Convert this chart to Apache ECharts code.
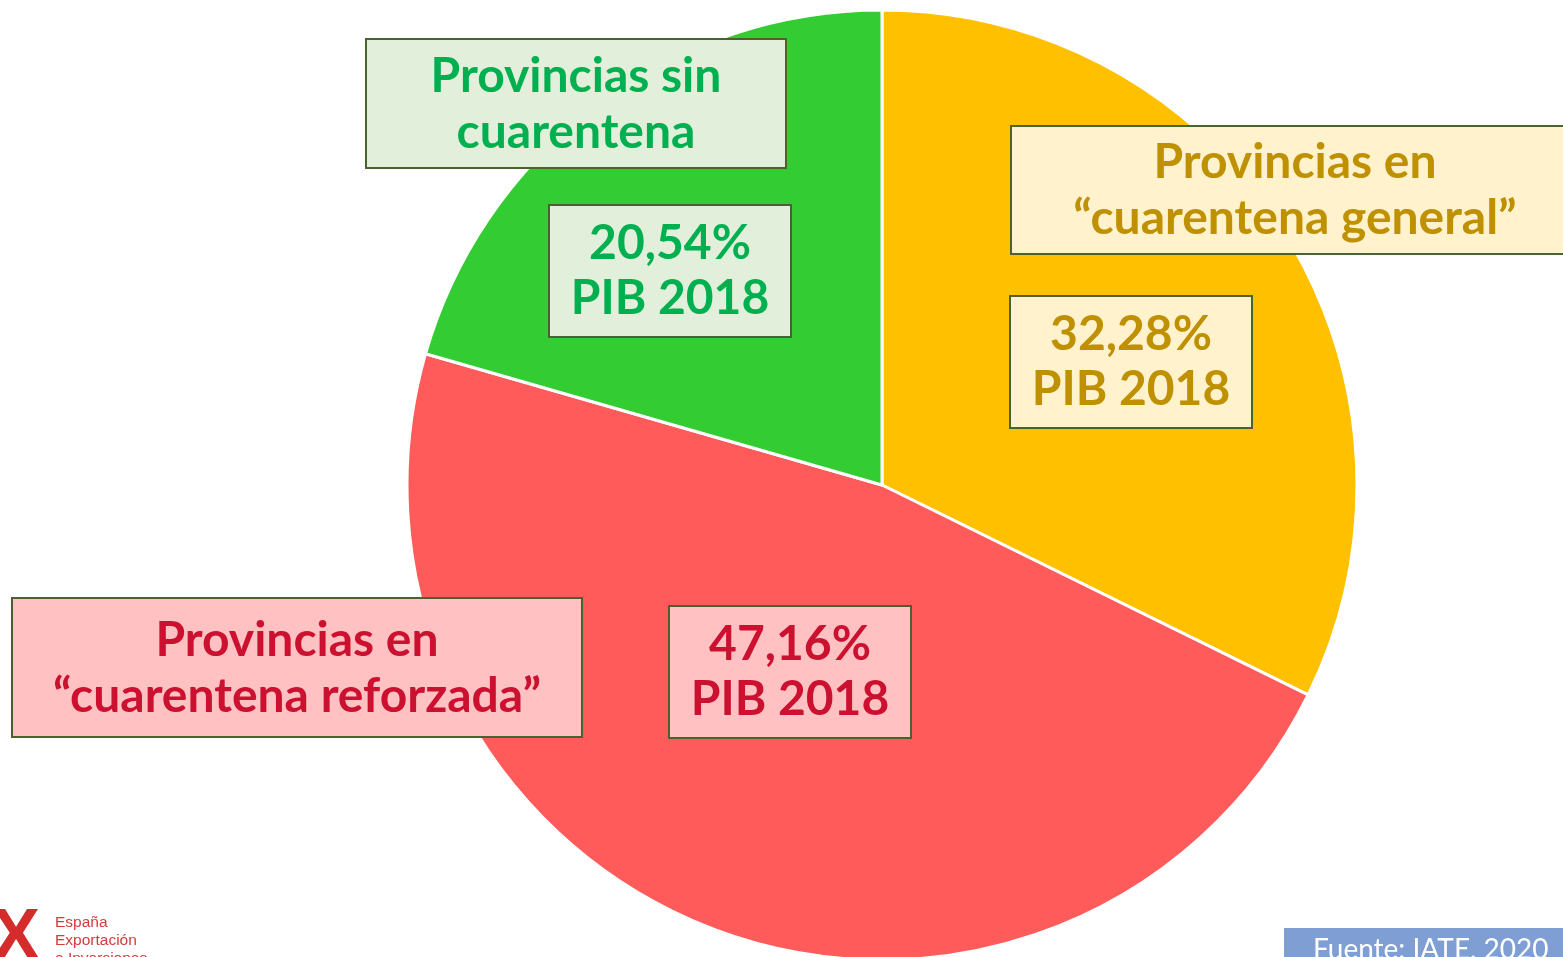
<!DOCTYPE html>
<html>
<head>
<meta charset="utf-8">
<script src="https://cdn.jsdelivr.net/npm/echarts@6/dist/echarts.min.js"></script>
<style>
  html, body { margin: 0; padding: 0; background: #fff; }
  #main { width: 1563px; height: 957px; }
</style>
</head>
<body>
<div id="main"></div>
<script>
// data
const names = ['Provincias en\n\u201ccuarentena general\u201d', 'Provincias en\n\u201ccuarentena reforzada\u201d', 'Provincias sin\ncuarentena']
const shares = [32.28, 47.16, 20.54]
const sliceColors = ['#FFC000', '#FF5B5B', '#33CC33']
const boxFill = ['#FFF2CC', '#FFC1C1', '#E2EFDA']
const textColors = ['#BF9000', '#CC1030', '#00B050']

// box layout (name box, percent box) per slice
const nameBoxes = [
  { x: 1011, y: 126, w: 560, h: 128, cx: 1295 },
  { x: 12, y: 598, w: 570, h: 139, cx: 297 },
  { x: 366, y: 39, w: 420, h: 129, cx: 576 }
]
const pctBoxes = [
  { cx: 1131, cy: 362 },
  { cx: 790, cy: 672 },
  { cx: 670, cy: 271 }
]

const font = 'Lato'
const chart = echarts.init(document.getElementById('main'))

const graphics = []
nameBoxes.forEach((b, i) => {
  graphics.push({
    type: 'rect', z: 10,
    shape: { x: b.x, y: b.y, width: b.w, height: b.h },
    style: { fill: boxFill[i], stroke: '#4A6130', lineWidth: 2 }
  })
  graphics.push({
    type: 'text', z: 11,
    style: {
      x: b.cx, y: b.y + b.h / 2 + 1, text: names[i],
      fill: textColors[i], font: 'bold 48px ' + font,
      lineHeight: 56, align: 'center', verticalAlign: 'middle'
    }
  })
})

// logo
graphics.push({
  type: 'text', z: 11,
  style: { x: -8, y: 903, text: 'X', fill: '#D42B2B', font: 'bold 72px Liberation Sans' }
})
graphics.push({
  type: 'text', z: 11,
  style: {
    x: 55, y: 914, text: 'España\nExportación\ne Inversiones',
    fill: '#D13B3B', font: '15.5px Liberation Sans', lineHeight: 18
  }
})
// source
graphics.push({
  type: 'rect', z: 10,
  shape: { x: 1284, y: 928, width: 290, height: 40 },
  style: { fill: '#7F9FD4' }
})
graphics.push({
  type: 'text', z: 11,
  style: { x: 1313, y: 936, text: 'Fuente: IATE, 2020', fill: '#fff', font: '28px ' + font }
})

chart.setOption({
  animation: false,
  graphic: graphics,
  series: [{
    type: 'pie',
    center: [882, 485],
    radius: 475,
    startAngle: 90,
    clockwise: true,
    itemStyle: { borderColor: '#fff', borderWidth: 3 },
    labelLine: { show: false },
    label: {
      show: true,
      position: 'inside',
      formatter: p => p.value.toFixed(2).replace('.', ',') + '%\nPIB 2018',
      fontFamily: font,
      fontWeight: 'bold',
      fontSize: 48,
      lineHeight: 55,
      width: 240,
      align: 'center',
      padding: [10, 0],
      borderColor: '#4A6130',
      borderWidth: 2
    },
    labelLayout: p => ({
      x: pctBoxes[p.dataIndex].cx,
      y: pctBoxes[p.dataIndex].cy,
      align: 'center',
      verticalAlign: 'middle'
    }),
    data: shares.map((v, i) => ({
      value: v,
      name: names[i],
      itemStyle: { color: sliceColors[i] },
      label: { color: textColors[i], backgroundColor: boxFill[i] }
    }))
  }]
})
</script>
</body>
</html>
